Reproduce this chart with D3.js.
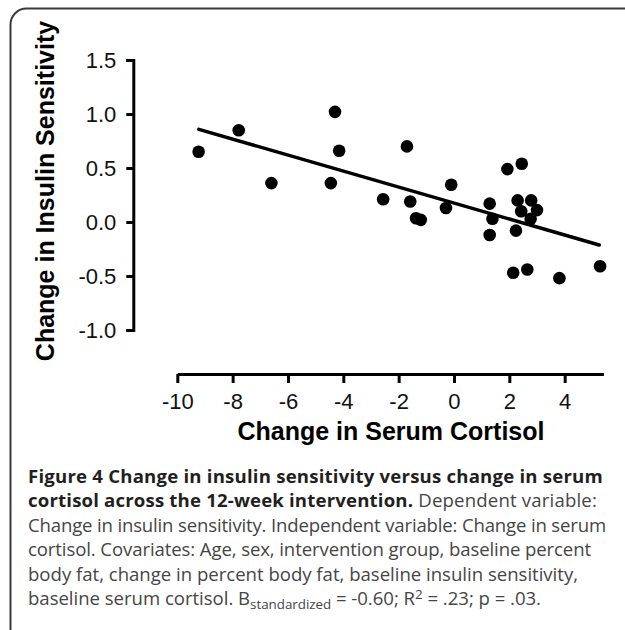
<!DOCTYPE html>
<html><head><meta charset="utf-8">
<script src="https://cdn.jsdelivr.net/npm/d3@7"></script>
<style>body{margin:0;background:#fff;overflow:hidden} svg{display:block}</style>
</head><body><svg id="c" width="625" height="630"></svg>
<script>
// ---- data ----
const cortisolChange = [-9.23, -7.78, -6.60, -4.30, -4.15, -4.45, -1.70, -2.56, -1.58, -1.37, -1.20, -0.29, -0.10,
  1.29, 1.39, 1.29, 1.93, 2.45, 2.30, 2.43, 2.24, 2.79, 3.00, 2.77, 2.14, 2.65, 3.81, 5.28];
const insulinChange = [0.65, 0.85, 0.36, 1.02, 0.66, 0.36, 0.70, 0.21, 0.19, 0.035, 0.02, 0.13, 0.345,
  0.17, 0.03, -0.12, 0.49, 0.54, 0.20, 0.10, -0.08, 0.20, 0.11, 0.03, -0.47, -0.44, -0.52, -0.41];
const fitX = [-9.22, 5.25];
const fitY = [0.858, -0.213];
const xTicks = [-10, -8, -6, -4, -2, 0, 2, 4];
const yTicks = [1.5, 1.0, 0.5, 0.0, -0.5, -1.0];
const xTitle = "Change in Serum Cortisol";
const yTitle = "Change in Insulin Sensitivity";

const svg = d3.select("#c");
svg.append("rect").attr("width", 625).attr("height", 630).attr("fill", "#fff");
// frame (extends past the right and bottom edges)
svg.append("path").attr("d", "M10.5,700 V24.5 A16,16 0 0 1 26.5,8.5 H700")
  .attr("fill", "none").attr("stroke", "#3a3a3a").attr("stroke-width", 2);

const x = d3.scaleLinear().domain([-10, 5.4]).range([177.3, 603.4]);
const y = d3.scaleLinear().domain([-1, 1.5]).range([330, 60]);
const axisFont = "'Liberation Sans', Arial, Helvetica, sans-serif";

const gx = svg.append("g").attr("transform", "translate(0,374)")
  .call(d3.axisBottom(x).tickValues(xTicks).tickFormat(d => String(d)).tickSize(9).tickSizeOuter(0).tickPadding(10));
const gy = svg.append("g").attr("transform", "translate(133.3,0)")
  .call(d3.axisLeft(y).tickValues(yTicks).tickFormat(d => d.toFixed(1)).tickSize(7).tickSizeOuter(7).tickPadding(10));
[gx, gy].forEach(g => {
  g.selectAll("path.domain").attr("stroke", "#000").attr("stroke-width", 3);
  g.selectAll(".tick line").attr("stroke", "#000").attr("stroke-width", 3);
  g.selectAll(".tick text").attr("fill", "#111").style("font-family", axisFont).style("font-size", "22px");
});

svg.append("text").attr("x", 391).attr("y", 440).attr("text-anchor", "middle")
  .style("font-family", axisFont).style("font-size", "25px").style("font-weight", "bold").text(xTitle);
svg.append("text").attr("transform", "translate(54,191) rotate(-90)").attr("text-anchor", "middle")
  .style("font-family", axisFont).style("font-size", "25px").style("font-weight", "bold").text(yTitle);

// fit line
svg.append("line").attr("x1", x(fitX[0])).attr("y1", y(fitY[0])).attr("x2", x(fitX[1])).attr("y2", y(fitY[1]))
  .attr("stroke", "#000").attr("stroke-width", 3.5).attr("stroke-linecap", "round");
// points
svg.append("g").selectAll("circle").data(cortisolChange).join("circle")
  .attr("cx", d => x(d)).attr("cy", (d, i) => y(insulinChange[i])).attr("r", 6.3).attr("fill", "#000");

// caption
const capFont = "'Open Sans', 'Noto Sans', sans-serif";
const bold = "#231f20", reg = "#454545";
const lines = [
  [{t: "Figure 4 Change in insulin sensitivity versus change in serum", b: 1}],
  [{t: "cortisol across the 12-week intervention.", b: 1}, {t: " Dependent variable:"}],
  [{t: "Change in insulin sensitivity. Independent variable: Change in serum"}],
  [{t: "cortisol. Covariates: Age, sex, intervention group, baseline percent"}],
  [{t: "body fat, change in percent body fat, baseline insulin sensitivity,"}],
  [{t: "baseline serum cortisol. B"}, {t: "standardized", sub: 1}, {t: " = -0.60; R"}, {t: "2", sup: 1}, {t: " = .23; p = .03."}]
];
const lineWidths = [575, 569, 578, 563, 550, 513];
const cap = svg.append("g");
const texts = lines.map((ln, i) => {
  const t = cap.append("text").attr("x", 28).attr("y", 483 + i * 24.4).style("font-family", capFont);
  let prevSmall = null;
  ln.forEach(p => {
    const s = t.append("tspan").text(p.t).attr("fill", p.b ? bold : reg).style("font-weight", p.b ? 700 : 400);
    if (p.sub) { s.attr("dy", 4).attr("data-small", 1); prevSmall = "sub"; }
    else if (p.sup) { s.attr("dy", -6).attr("data-small", 1); prevSmall = "sup"; }
    else if (prevSmall) { s.attr("dy", prevSmall === "sub" ? -4 : 6); prevSmall = null; }
  });
  return t;
});
function setSize(fs) {
  texts.forEach(t => {
    t.style("font-size", fs + "px");
    t.selectAll("tspan[data-small]").style("font-size", (fs * 0.72) + "px");
  });
}
setSize(17);
const nat = texts.map(t => t.node().getComputedTextLength());
const fs = 17 * d3.sum(lineWidths) / d3.sum(nat);
setSize(fs);
texts.forEach((t, i) => {
  const L = t.node().getComputedTextLength();
  const n = lines[i].reduce((a, p) => a + p.t.length, 0);
  t.style("letter-spacing", ((lineWidths[i] - L) / n) + "px");
});
</script></body></html>
